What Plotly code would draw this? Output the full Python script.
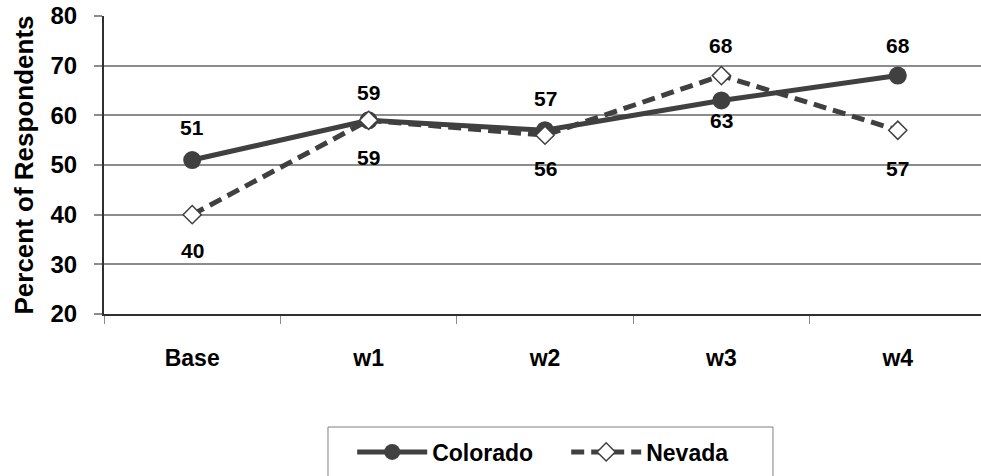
import plotly.graph_objects as go

# Survey waves and percent of respondents per state
waves = ["Base", "w1", "w2", "w3", "w4"]
colorado = [51, 59, 57, 63, 68]
nevada = [40, 59, 56, 68, 57]
y_ticks = [20, 30, 40, 50, 60, 70, 80]

# Vertical offset (px) of each value label from its marker (+ above, - below)
colorado_label_shift = [33, 28, 32, -20, 30]
nevada_label_shift = [-36, -37, -33, 30, -38]

DARK = "#404040"
GRID = "#8c8c8c"
FONT = "Liberation Sans, Arial, sans-serif"


def bold(size):
    return dict(family=FONT, size=size, color="black", weight="bold")


fig = go.Figure()
fig.add_trace(go.Scatter(
    x=waves, y=colorado, name="Colorado", mode="lines+markers",
    line=dict(color=DARK, width=5),
    marker=dict(symbol="circle", size=18, color=DARK),
))
fig.add_trace(go.Scatter(
    x=waves, y=nevada, name="Nevada", mode="lines+markers",
    line=dict(color=DARK, width=5, dash="13px,7px"),
    marker=dict(symbol="diamond", size=14, color="white",
                line=dict(color=DARK, width=1.5)),
))

annotations = []
for vals, shifts in ((colorado, colorado_label_shift), (nevada, nevada_label_shift)):
    for w, v, s in zip(waves, vals, shifts):
        annotations.append(dict(
            x=w, y=v, xref="x", yref="y", text=str(v),
            showarrow=False, yshift=s, font=bold(21),
        ))

# Framed box around the legend, running past the bottom edge
legend_frame = dict(
    type="rect", xref="paper", yref="paper",
    x0=0.2554, x1=0.7628, y0=-0.56, y1=-0.3792,
    line=dict(color="#808080", width=1), fillcolor="rgba(0,0,0,0)",
    layer="above",
)

fig.update_layout(
    width=981, height=476,
    margin=dict(l=104, r=0, t=16, b=162),
    paper_bgcolor="white", plot_bgcolor="white",
    font=dict(family=FONT, color="black"),
    showlegend=True,
    legend=dict(
        orientation="h", x=0.283, xanchor="left", y=-0.463, yanchor="middle",
        bgcolor="rgba(0,0,0,0)", borderwidth=0,
        font=bold(23),
        entrywidth=129, entrywidthmode="pixels",
        itemwidth=70,
    ),
    shapes=[legend_frame],
    annotations=annotations,
    xaxis=dict(
        type="category",
        range=[-0.5, 4.4717],
        showgrid=False, zeroline=False,
        showline=True, linecolor="#303030", linewidth=2,
        ticks="outside", tickson="boundaries", ticklen=8,
        tickcolor=GRID, tickwidth=1,
        tickfont=bold(23),
        ticklabelstandoff=22,
    ),
    yaxis=dict(
        range=[20, 80],
        tickvals=y_ticks,
        showgrid=True, gridcolor=GRID, gridwidth=2,
        zeroline=False,
        showline=True, linecolor="#303030", linewidth=2,
        ticks="outside", ticklen=8, tickcolor=GRID, tickwidth=2,
        tickfont=bold(24),
        ticklabelstandoff=12,
        title=dict(text="Percent of Respondents", font=bold(26), standoff=9),
    ),
)

fig.write_html("out.html")
